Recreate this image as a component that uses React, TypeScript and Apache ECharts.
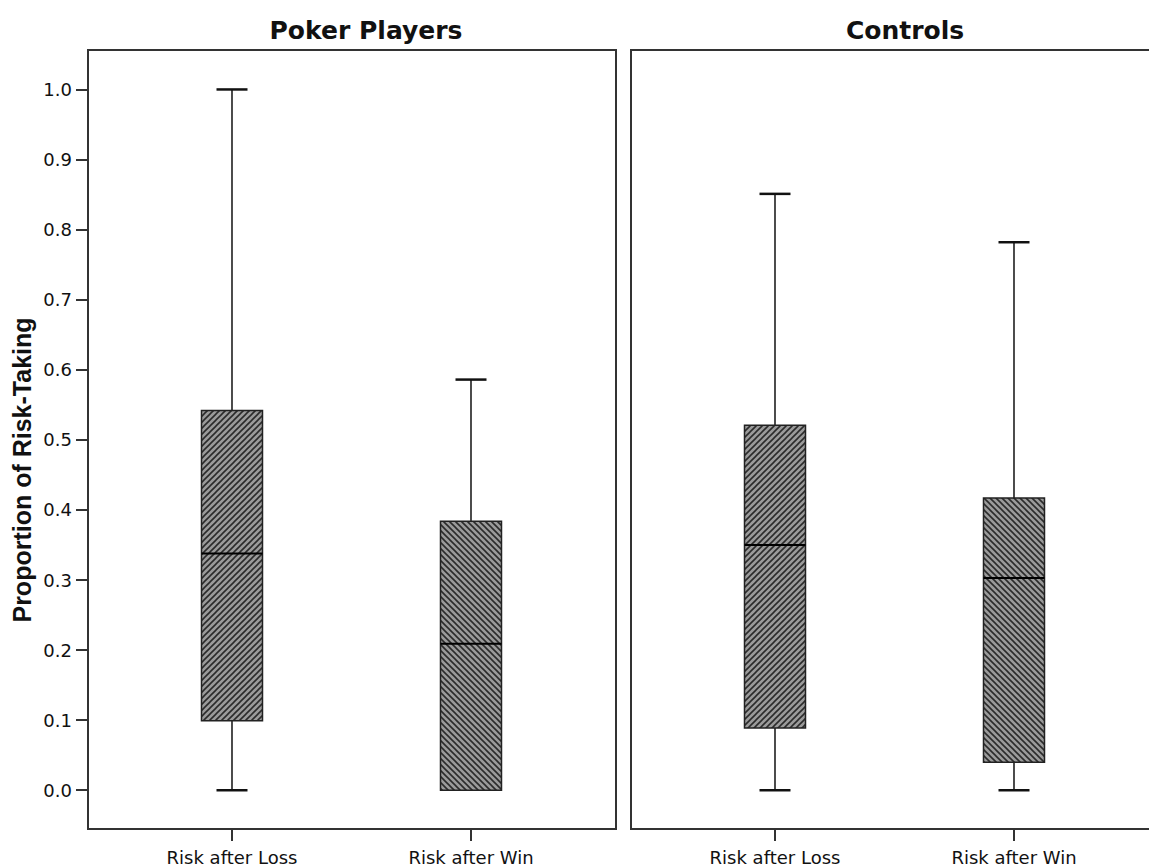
import React, { useEffect, useRef } from "react";
import * as echarts from "echarts";

const panelTitles = ["Poker Players", "Controls"];
const yAxisTitle = "Proportion of Risk-Taking";
const categories = ["Risk after Loss", "Risk after Win"];
const categoryPositions = [1, 2];
// [min, Q1, median, Q3, max]
const pokerStats = [
  [0.0, 0.099, 0.338, 0.542, 1.0],
  [0.0, 0.0, 0.209, 0.384, 0.586],
];
const controlStats = [
  [0.0, 0.089, 0.35, 0.521, 0.851],
  [0.0, 0.04, 0.303, 0.417, 0.782],
];
const yTicks = [0, 0.1, 0.2, 0.3, 0.4, 0.5, 0.6, 0.7, 0.8, 0.9, 1.0];

function hatchTile(dir: "up" | "down") {
  const s = 6;
  const d =
    dir === "up"
      ? `M0,${s} L${s},0 M-1,1 L1,-1 M${s - 1},${s + 1} L${s + 1},${s - 1}`
      : `M0,0 L${s},${s} M${s - 1},-1 L${s + 1},1 M-1,${s - 1} L1,${s + 1}`;
  const svg = `<svg xmlns="http://www.w3.org/2000/svg" width="${s}" height="${s}"><rect width="${s}" height="${s}" fill="#9a9a9a"/><path d="${d}" stroke="#2b2b2b" stroke-width="1.6"/></svg>`;
  return "data:image/svg+xml;charset=utf-8," + encodeURIComponent(svg);
}

export default function App() {
  const ref = useRef<HTMLDivElement>(null);
  useEffect(() => {
    if (!ref.current) return;
    const chart = echarts.init(ref.current, undefined, { renderer: "svg" });
    const patterns = [hatchTile("up"), hatchTile("down")];
    const yMin = -0.0553;
    const yMax = 1.0563;
    const xMin = 0.3975;
    const xMax = 2.6067;
    const font = "DejaVu Sans";

    const makeData = (stats: number[][]) =>
      stats.map((s, i) => [categoryPositions[i], ...s, i]);

    const renderItem = (params: any, api: any) => {
      const x = api.value(0);
      const vMin = api.value(1);
      const q1 = api.value(2);
      const med = api.value(3);
      const q3 = api.value(4);
      const vMax = api.value(5);
      const pi = api.value(6);
      const pMin = api.coord([x, vMin]);
      const pQ1 = api.coord([x, q1]);
      const pMed = api.coord([x, med]);
      const pQ3 = api.coord([x, q3]);
      const pMax = api.coord([x, vMax]);
      const cx = pMin[0];
      const hw = 30.5;
      const cap = 15.5;
      const children: any[] = [];
      const lineStyle = { stroke: "#111", lineWidth: 1.5 };
      const capStyle = { stroke: "#111", lineWidth: 2.5 };
      if (vMax > q3) {
        children.push({ type: "line", shape: { x1: cx, y1: pMax[1], x2: cx, y2: pQ3[1] }, style: lineStyle });
        children.push({ type: "line", shape: { x1: cx - cap, y1: pMax[1], x2: cx + cap, y2: pMax[1] }, style: capStyle });
      }
      if (vMin < q1) {
        children.push({ type: "line", shape: { x1: cx, y1: pQ1[1], x2: cx, y2: pMin[1] }, style: lineStyle });
        children.push({ type: "line", shape: { x1: cx - cap, y1: pMin[1], x2: cx + cap, y2: pMin[1] }, style: capStyle });
      }
      children.push({
        type: "rect",
        shape: { x: cx - hw, y: pQ3[1], width: hw * 2, height: pQ1[1] - pQ3[1] },
        style: {
          fill: { image: patterns[pi], repeat: "repeat", imageWidth: 6, imageHeight: 6 },
          stroke: "#222",
          lineWidth: 1.5,
        },
      });
      children.push({ type: "line", shape: { x1: cx - hw, y1: pMed[1], x2: cx + hw, y2: pMed[1] }, style: { stroke: "#000", lineWidth: 2 } });
      return { type: "group", children };
    };

    const xAxisBase = (gridIndex: number) => ({
      type: "value",
      gridIndex,
      min: xMin,
      max: xMax,
      position: "bottom",
      axisLine: { show: false, onZero: false },
      splitLine: { show: false },
      axisTick: { show: true, inside: false, length: 12, lineStyle: { color: "#333", width: 2 }, customValues: categoryPositions },
      axisLabel: {
        show: true,
        margin: 19,
        fontFamily: font,
        fontSize: 18,
        color: "#111",
        customValues: categoryPositions,
        formatter: (v: number) => {
          const i = categoryPositions.indexOf(Math.round(v));
          return i >= 0 ? categories[i] : "";
        },
      },
    });

    const option: any = {
      animation: false,
      backgroundColor: "#fff",
      title: [
        { text: panelTitles[0], left: 361, top: 13, textAlign: "center", textStyle: { fontFamily: font, fontWeight: "bold", fontSize: 25, color: "#111" } },
        { text: panelTitles[1], left: 900, top: 13, textAlign: "center", textStyle: { fontFamily: font, fontWeight: "bold", fontSize: 25, color: "#111" } },
      ],
      graphic: [
        {
          type: "text",
          x: 22,
          y: 470,
          rotation: Math.PI / 2,
          style: {
            text: yAxisTitle,
            fontFamily: "Liberation Sans",
            fontWeight: "bold",
            fontSize: 25,
            fill: "#111",
            align: "center",
            verticalAlign: "middle",
          },
        },
      ],
      grid: [
        { left: 88, top: 50, width: 528, height: 780, show: true, borderColor: "#333", borderWidth: 2, backgroundColor: "transparent" },
        { left: 631, top: 50, width: 528, height: 780, show: true, borderColor: "#333", borderWidth: 2, backgroundColor: "transparent" },
      ],
      xAxis: [xAxisBase(0), xAxisBase(1)],
      yAxis: [
        {
          type: "value",
          gridIndex: 0,
          min: yMin,
          max: yMax,
          axisLine: { show: false, onZero: false },
          splitLine: { show: false },
          axisTick: { show: true, length: 12, lineStyle: { color: "#333", width: 2 }, customValues: yTicks },
          axisLabel: {
            show: true,
            margin: 16,
            fontFamily: font,
            fontSize: 18,
            color: "#111",
            customValues: yTicks,
            formatter: (v: number) => v.toFixed(1),
          },
        },
        {
          type: "value",
          gridIndex: 1,
          min: yMin,
          max: yMax,
          axisLine: { show: false, onZero: false },
          splitLine: { show: false },
          axisTick: { show: false },
          axisLabel: { show: false },
        },
      ],
      series: [
        { type: "custom", name: panelTitles[0], xAxisIndex: 0, yAxisIndex: 0, clip: false, renderItem, encode: { x: 0, y: [1, 2, 3, 4, 5] }, data: makeData(pokerStats) },
        { type: "custom", name: panelTitles[1], xAxisIndex: 1, yAxisIndex: 1, clip: false, renderItem, encode: { x: 0, y: [1, 2, 3, 4, 5] }, data: makeData(controlStats) },
      ],
    };
    chart.setOption(option);
    return () => chart.dispose();
  }, []);
  return (
    <div style={{ position: "fixed", left: 0, top: 0, width: 1149, height: 866, overflow: "hidden", background: "#fff" }}>
      <div ref={ref} style={{ width: 1175, height: 866 }} />
    </div>
  );
}
